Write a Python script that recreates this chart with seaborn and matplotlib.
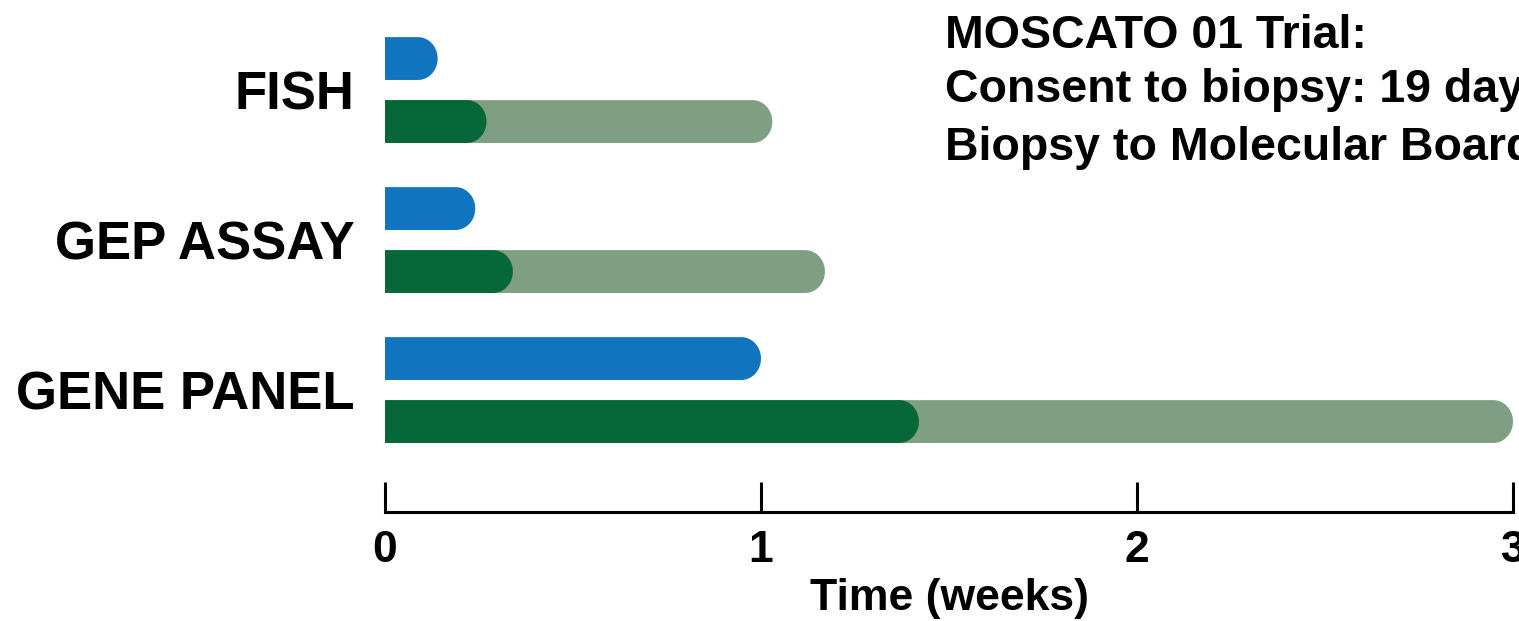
#!/usr/bin/env python3

import numpy as np
import matplotlib.pyplot as plt
import seaborn as sns
import pandas as pd
from matplotlib.patches import Polygon

# values (weeks)
tests = ["FISH", "GEP ASSAY", "GENE PANEL"]
blue_weeks = [0.14, 0.24, 1.00]
dark_weeks = [0.27, 0.34, 1.42]
light_weeks = [1.03, 1.17, 3.00]
xticks = [0, 1, 2, 3]
title_lines = ["MOSCATO 01 Trial:",
               "Consent to biopsy: 19 days",
               "Biopsy to Molecular Board"]

BLUE = "#1174be"
DARK = "#066839"
LIGHT = "#7f9f82"

sns.set_style("white")
plt.rcParams['font.family'] = ['Liberation Sans', 'DejaVu Sans']
plt.rcParams['font.weight'] = 'bold'
plt.rcParams['text.color'] = 'black'
plt.rcParams['axes.labelcolor'] = 'black'
plt.rcParams['xtick.color'] = 'black'
plt.rcParams['ytick.color'] = 'black'


def round_right_end(ax, frac=0.46):
    # swap seaborn's rectangles for bars with a rounded right end
    fig = ax.figure
    bb = ax.get_position()
    W, H = fig.get_size_inches() * fig.dpi
    x0l, x1l = ax.get_xlim()
    y0l, y1l = ax.get_ylim()
    px_x = bb.width * W / abs(x1l - x0l)
    px_y = bb.height * H / abs(y1l - y0l)
    for p in list(ax.patches):
        x, w = p.get_x(), p.get_width()
        y, h = p.get_y(), p.get_height()
        fc = p.get_facecolor()
        z = p.get_zorder()
        p.remove()
        if not np.isfinite(w) or w <= 0:
            continue
        h_px = abs(h) * px_y
        rx = min(frac * h_px / px_x, w)
        yc = y + h / 2
        ry = abs(h) / 2
        t = np.linspace(-np.pi / 2, np.pi / 2, 60)
        arc = np.column_stack([x + w - rx + rx * np.cos(t), yc + ry * np.sin(t)])
        pts = np.vstack([[x, yc - ry], arc, [x, yc + ry]])
        ax.add_patch(Polygon(pts, closed=True, facecolor=fc, edgecolor='none',
                             zorder=z, clip_on=False))


def main():
    fig = plt.figure(figsize=(15.19, 6.21), dpi=100)
    ax = fig.add_axes([385 / 1519, 1 - 512 / 621, 1128 / 1519, 492 / 621])

    order = ["upper", "lower"]
    df_a = pd.DataFrame({
        "test": tests * 2,
        "stage": ["upper"] * 3 + ["lower"] * 3,
        "weeks": blue_weeks + light_weeks,
    })
    # the upper slot is kept empty (0) so the dark bars dodge onto the lower slot
    df_b = pd.DataFrame({
        "test": tests * 2,
        "stage": ["upper"] * 3 + ["lower"] * 3,
        "weeks": [0] * 3 + dark_weeks,
    })
    sns.barplot(data=df_a, x="weeks", y="test", hue="stage", hue_order=order,
                order=tests, palette={"upper": BLUE, "lower": LIGHT},
                width=0.84, gap=0.32, orient="h", errorbar=None,
                legend=False, saturation=1, ax=ax)
    sns.barplot(data=df_b, x="weeks", y="test", hue="stage", hue_order=order,
                order=tests, palette={"upper": BLUE, "lower": DARK},
                width=0.84, gap=0.32, orient="h", errorbar=None,
                legend=False, saturation=1, ax=ax)

    ax.set_xlim(0, 3)
    ax.set_ylim(2.813, -0.467)
    round_right_end(ax)

    for s in ['top', 'right', 'left']:
        ax.spines[s].set_visible(False)
    ax.spines['bottom'].set_linewidth(2.2)
    ax.spines['bottom'].set_color('black')

    ax.set_xticks(xticks)
    ax.set_xticklabels([str(v) for v in xticks], fontsize=32, fontweight='bold')
    ax.tick_params(axis='x', direction='in', length=21.5, width=2.2,
                   color='black', pad=13, bottom=True)
    ax.tick_params(axis='y', length=0, pad=22)
    ax.set_yticklabels(tests, fontsize=38, fontweight='bold')

    ax.set_xlabel("Time (weeks)", fontsize=32, fontweight='bold', labelpad=5)
    ax.set_ylabel("")

    ys = [36, 90, 148]
    for line, yp in zip(title_lines, ys):
        fig.text(945 / 1519, 1 - yp / 621, line, fontsize=33.5,
                 fontweight='bold', va='center', ha='left')

    plt.savefig("out.png", dpi=100)
    plt.close()


if __name__ == '__main__':
    main()
